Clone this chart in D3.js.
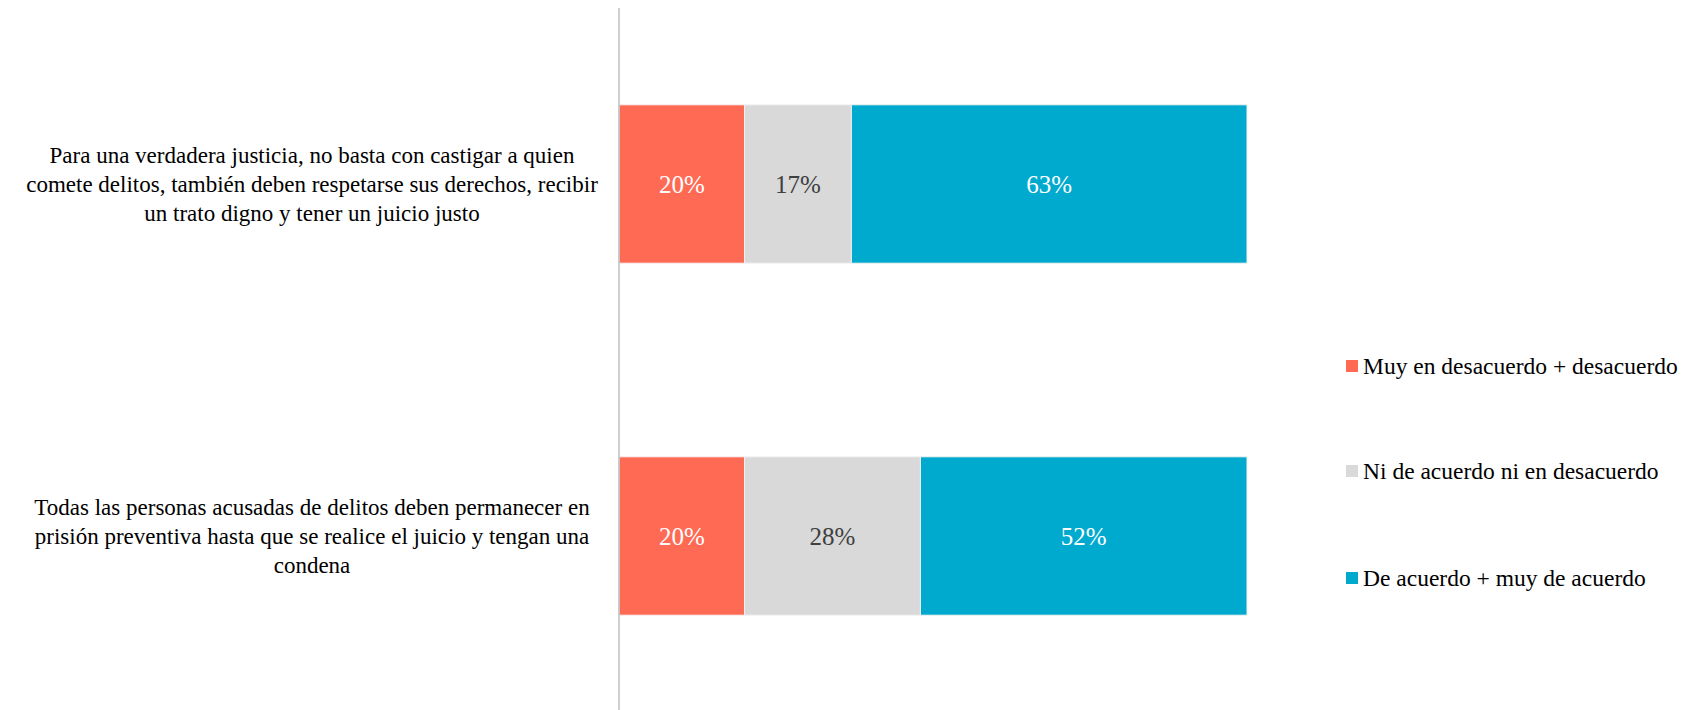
<!DOCTYPE html>
<html>
<head>
  <meta charset="UTF-8">
  <title>Justicia y prisión preventiva</title>
  <style>
    body { margin: 0; background: #fff; }
    svg text { font-family: "Palatino Linotype", "Book Antiqua", Palatino, "Liberation Serif", serif; }
  </style>
</head>
<body>
  <svg id="chart" width="1683" height="710"></svg>
  <script src="https://d3js.org/d3.v7.min.js"></script>
  <script>
    // data
    var categories = [
      ["Para una verdadera justicia, no basta con castigar a quien",
       "comete delitos, también deben respetarse sus derechos, recibir",
       "un trato digno y tener un juicio justo"],
      ["Todas las personas acusadas de delitos deben permanecer en",
       "prisión preventiva hasta que se realice el juicio y tengan una",
       "condena"]
    ];
    var seriesNames = ["Muy en desacuerdo + desacuerdo", "Ni de acuerdo ni en desacuerdo", "De acuerdo + muy de acuerdo"];
    var desacuerdo = [20, 20];
    var neutral = [17, 28];
    var acuerdo = [63, 52];
    var colors = ["#FF6A55", "#D9D9D9", "#00AACF"];
    var labelColors = ["#ffffff", "#404040", "#ffffff"];

    var svg = d3.select("#chart");
    var left = 619, right = 1247;

    var x = d3.scaleLinear().domain([0, 100]).range([left, right]);
    var y = d3.scaleBand()
      .domain(d3.range(categories.length))
      .range([8, 712])
      .paddingInner(0.55)
      .paddingOuter(0.275);

    var rows = categories.map(function(c, i) {
      return { i: i, vals: [desacuerdo[i], neutral[i], acuerdo[i]] };
    });

    var stack = d3.stack().keys([0, 1, 2]).value(function(d, k) { return d.vals[k]; });
    var series = stack(rows);

    var g = svg.append("g");
    series.forEach(function(s, k) {
      var seg = g.selectAll(".seg" + k).data(s).enter();
      seg.append("rect")
        .attr("x", function(d) { return x(d[0]); })
        .attr("y", function(d) { return y(d.data.i); })
        .attr("width", function(d) { return x(d[1]) - x(d[0]); })
        .attr("height", y.bandwidth())
        .attr("fill", colors[k])
        .attr("stroke", "#f2f2f2")
        .attr("stroke-width", 1);
      seg.append("text")
        .attr("x", function(d) { return (x(d[0]) + x(d[1])) / 2; })
        .attr("y", function(d) { return y(d.data.i) + y.bandwidth() / 2; })
        .attr("dy", "0.35em")
        .attr("text-anchor", "middle")
        .attr("font-size", 25)
        .attr("fill", labelColors[k])
        .text(function(d) { return (d[1] - d[0]) + "%"; });
    });

    // axis line
    svg.append("line")
      .attr("x1", left).attr("x2", left)
      .attr("y1", 8).attr("y2", 710)
      .attr("stroke", "#BFBFBF").attr("stroke-width", 1.5);

    // category labels
    var lineH = 29;
    categories.forEach(function(lines, i) {
      var cy = y(i) + y.bandwidth() / 2;
      var t = svg.append("text")
        .attr("text-anchor", "middle")
        .attr("font-size", 23)
        .attr("fill", "#000");
      lines.forEach(function(l, j) {
        t.append("tspan")
          .attr("x", 312)
          .attr("y", cy + (j - (lines.length - 1) / 2) * lineH)
          .attr("dy", "0.35em")
          .text(l);
      });
    });

    // legend
    var legY = [366, 471, 578];
    var leg = svg.append("g");
    seriesNames.forEach(function(n, k) {
      leg.append("rect")
        .attr("x", 1346).attr("y", legY[k] - 6)
        .attr("width", 12).attr("height", 12)
        .attr("fill", colors[k]);
      leg.append("text")
        .attr("x", 1363).attr("y", legY[k])
        .attr("dy", "0.35em")
        .attr("font-size", 23.5)
        .attr("fill", "#000")
        .text(n);
    });
  </script>
</body>
</html>
